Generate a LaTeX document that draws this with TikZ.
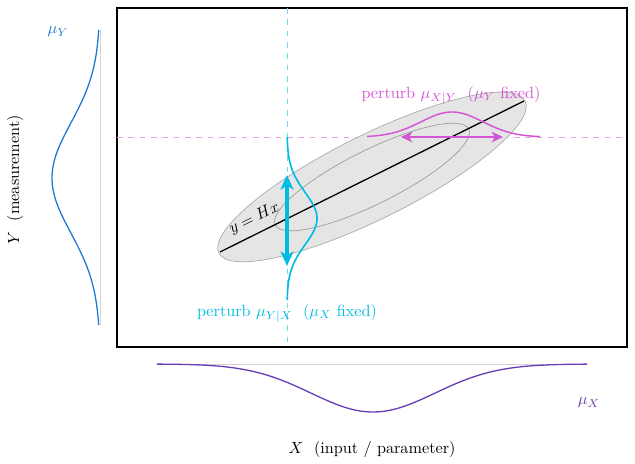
\documentclass[tikz,border=0pt]{standalone}
\usepackage{amsmath}
\usepackage{tikz}
\usetikzlibrary{arrows.meta}
\definecolor{cyanp}{RGB}{0,188,226}
\definecolor{magp}{RGB}{212,84,212}
\definecolor{bluem}{RGB}{28,122,214}
\definecolor{purplem}{RGB}{104,60,180}

\begin{document}
\begin{tikzpicture}[x=0.0217cm,y=-0.0217cm,
  declare function={gau(\t,\m,\s)=exp(-0.5*((\t-\m)/\s)^2);}]
\useasboundingbox (0,0) rectangle (635,464);

%cadre
\draw[line width=0.9pt] (117,8) rectangle (627,347);
%fin

%pointilles
\draw[cyanp!55,dash pattern=on 3.5pt off 3.5pt] (287,8) -- (287,347);
\draw[magp!55,dash pattern=on 3.5pt off 3.5pt] (117,137) -- (627,137);
%fin

%ellipses
\draw[gray!70,fill=gray!20,rotate around={26.4:(372,177)}] (372,177) ellipse [x radius=171,y radius=42];
\draw[gray!80,rotate around={26.4:(372,177)}] (372,177) ellipse [x radius=108,y radius=27];
%fin

%droite
\coordinate (hlo) at (220,252);
\coordinate (hhi) at (524,101);
\draw[line width=0.8pt] (hlo) -- (hhi) node[pos=0.135,above=1pt,sloped] (hlab) {$y=Hx$};
%fin

%perturbation Y|X
\draw[cyanp,line width=1pt,domain=137:300,samples=100,smooth] plot ({287+30*gau(\x,218.5,26)},{\x});
\coordinate (ctop) at (287,175);
\coordinate (cbot) at (287,266);
\draw[cyanp,line width=2pt,{Stealth[length=9pt,width=8pt,inset=2.5pt]}-{Stealth[length=9pt,width=8pt,inset=2.5pt]}] (ctop) -- (cbot);
\node[cyanp] (labc) at (287,313) {perturb $\mu_{Y|X}$\ \ ($\mu_X$ fixed)};
%fin

%perturbation X|Y
\draw[magp,line width=0.9pt,domain=367:540,samples=100,smooth] plot ({\x},{137-25*gau(\x,452,31)});
\coordinate (mleft) at (401,137);
\coordinate (mright) at (503,137);
\draw[magp,line width=1.3pt,{Stealth[length=7pt,width=6.5pt,inset=2pt]}-{Stealth[length=7pt,width=6.5pt,inset=2pt]}] (mleft) -- (mright);
\node[magp] (labm) at (451,95) {perturb $\mu_{X|Y}$\ \ ($\mu_Y$ fixed)};
%fin

%marginale Y
\draw[gray!35] (100,30) -- (100,325);
\draw[bluem,line width=0.8pt,domain=30:325,samples=120,smooth] plot ({100-48*gau(\x,178,55)},{\x});
\node[bluem] (muy) at (58,32) {$\mu_Y$};
\node[rotate=90] (ylab) at (15,180) {$Y$\ \ (measurement)};
%fin

%marginale X
\draw[gray!35] (157,364) -- (587,364);
\draw[purplem,line width=0.8pt,domain=157:587,samples=120,smooth] plot ({\x},{364+48*gau(\x,373,62)});
\node[purplem] (mux) at (589,403) {$\mu_X$};
\node (xlab) at (372,449) {$X$\ \ (input / parameter)};
%fin
\end{tikzpicture}
\end{document}
